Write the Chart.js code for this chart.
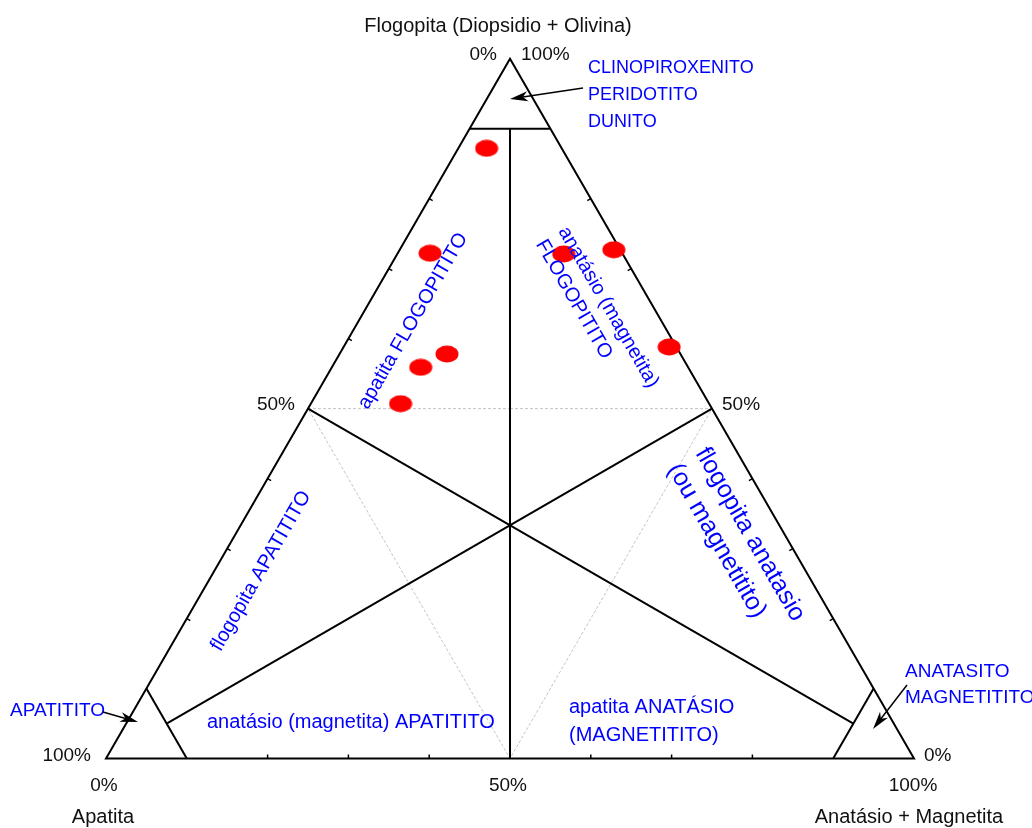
<!DOCTYPE html>
<html>
<head>
<meta charset="utf-8">
<script src="https://cdn.jsdelivr.net/npm/chart.js@4.4.1/dist/chart.umd.min.js"></script>
<style>
  html, body { margin: 0; padding: 0; background: #fff; }
</style>
</head>
<body>
<canvas id="ternary" width="1032" height="828"></canvas>
<script>
// Amostras (% de cada vertice)
const sampleApatita   = [9.3, 23.8, 28.9, 33.1, 38.2, 7.3, 0.8, 0.9];
const sampleAnatasio  = [3.5, 4.0, 13.3, 11.0, 11.1, 20.6, 26.5, 40.3];
const sampleFlogopita = [87.2, 72.2, 57.8, 55.9, 50.7, 72.1, 72.7, 58.8];

// Vertices e rotulos dos eixos
const vertexNames = ['Flogopita (Diopsidio + Olivina)', 'Apatita', 'Anatásio + Magnetita'];
const pctLabels = ['0%', '50%', '100%'];
const cornerCut = 90;   // limite dos campos de canto
const tickStep = 10;

const SQ3 = Math.sqrt(3) / 2;

// ternario -> cartesiano (apatita na origem, anatasio em x = 1)
function tern(ap, an, fl) {
    return { x: (an + fl / 2) / 100, y: fl / 100 * SQ3 };
}

// red ellipse used as point style
const dot = document.createElement('canvas');
dot.width = 24;
dot.height = 18;
const dctx = dot.getContext('2d');
dctx.fillStyle = '#ff0000';
dctx.beginPath();
dctx.ellipse(12, 9, 11.5, 8.4, 0, 0, Math.PI * 2);
dctx.fill();

function seg(points, opts) {
    return Object.assign({
        data: points,
        showLine: true,
        borderColor: '#000',
        borderWidth: 2,
        pointRadius: 0,
        fill: false,
        tension: 0,
        borderJoinStyle: 'miter'
    }, opts || {});
}

const c = cornerCut, r = 100 - cornerCut;

const datasets = [
    {
        data: sampleFlogopita.map((f, i) => tern(sampleApatita[i], sampleAnatasio[i], f)),
        pointStyle: dot,
        pointRadius: 10,
        showLine: false
    },
    // contorno
    seg([tern(50, 50, 0), tern(0, 100, 0), tern(0, 0, 100), tern(100, 0, 0), tern(50, 50, 0)]),
    // campos de canto
    seg([tern(r, 0, c), tern(0, r, c)]),
    seg([tern(c, 0, r), tern(c, r, 0)]),
    seg([tern(r, c, 0), tern(0, c, r)]),
    // medianas
    seg([tern(50, 50, 0), tern(r / 2, r / 2, c)]),
    seg([tern(0, 50, 50), tern(c, r / 2, r / 2)]),
    seg([tern(50, 0, 50), tern(r / 2, c, r / 2)]),
    // triangulo medio tracejado
    seg([tern(25, 25, 50), tern(0, 50, 50), tern(50, 50, 0), tern(50, 0, 50), tern(25, 25, 50)], {
        borderColor: '#c4c4c4',
        borderWidth: 1,
        borderDash: [3, 2]
    })
];

function drawText(ctx, s, x, y, font, color, align, rot, lh) {
    ctx.save();
    ctx.font = font;
    ctx.fillStyle = color;
    ctx.textAlign = align || 'left';
    ctx.textBaseline = 'alphabetic';
    ctx.translate(x, y);
    if (rot) ctx.rotate(rot * Math.PI / 180);
    const lines = Array.isArray(s) ? s : [s];
    const step = lh || parseFloat(font) * 1.3;
    lines.forEach((line, i) => ctx.fillText(line, 0, i * step));
    ctx.restore();
}

function arrow(ctx, x0, y0, x1, y1) {
    const a = Math.atan2(y1 - y0, x1 - x0);
    const len = 18, half = 5, notch = 13;
    ctx.save();
    ctx.strokeStyle = '#000';
    ctx.fillStyle = '#000';
    ctx.lineWidth = 1.5;
    ctx.beginPath();
    ctx.moveTo(x0, y0);
    ctx.lineTo(x1 - Math.cos(a) * notch, y1 - Math.sin(a) * notch);
    ctx.stroke();
    ctx.translate(x1, y1);
    ctx.rotate(a);
    ctx.beginPath();
    ctx.moveTo(0, 0);
    ctx.lineTo(-len, -half);
    ctx.lineTo(-notch, 0);
    ctx.lineTo(-len, half);
    ctx.closePath();
    ctx.fill();
    ctx.restore();
}

const decor = {
    id: 'ternaryDecor',
    beforeDatasetsDraw(chart) {
        const { ctx, scales: { x, y } } = chart;
        const px = p => ({ x: x.getPixelForValue(p.x), y: y.getPixelForValue(p.y) });

        // pequenas marcas a cada 10% (10 e 90 caem nas linhas de canto)
        const V = [px(tern(100, 0, 0)), px(tern(0, 100, 0)), px(tern(0, 0, 100))];
        const edges = [[0, 1, 2], [0, 2, 1], [1, 2, 0]];
        ctx.save();
        ctx.strokeStyle = '#000';
        ctx.lineWidth = 1.5;
        edges.forEach(([a, b, o]) => {
            const A = V[a], B = V[b], O = V[o];
            let nx = -(B.y - A.y), ny = B.x - A.x;
            const L = Math.hypot(nx, ny);
            nx /= L; ny /= L;
            for (let k = 2 * tickStep; k < 100 - tickStep; k += tickStep) {
                const t = k / 100;
                const p = { x: A.x + (B.x - A.x) * t, y: A.y + (B.y - A.y) * t };
                const s = ((O.x - p.x) * nx + (O.y - p.y) * ny) > 0 ? 1 : -1;
                ctx.beginPath();
                ctx.moveTo(p.x, p.y);
                ctx.lineTo(p.x + nx * 4 * s, p.y + ny * 4 * s);
                ctx.stroke();
            }
        });
        ctx.restore();
    },
    afterDatasetsDraw(chart) {
        const { ctx } = chart;
        const black = '#111';
        const blue = '#0000ff';
        const f19 = '19px "Liberation Sans", Arial, sans-serif';
        const f20 = '20px "Liberation Sans", Arial, sans-serif';
        const f18 = '18px "Liberation Sans", Arial, sans-serif';
        const f25 = '25px "Liberation Sans", Arial, sans-serif';

        // nomes dos vertices
        drawText(ctx, vertexNames[0], 498, 32, f20, black, 'center');
        drawText(ctx, vertexNames[1], 103, 823, f20, black, 'center');
        drawText(ctx, vertexNames[2], 909, 823, f20, black, 'center');

        // percentuais
        drawText(ctx, pctLabels[0], 497, 60, f19, black, 'right');
        drawText(ctx, pctLabels[2], 521, 60, f19, black, 'left');
        drawText(ctx, pctLabels[1], 295, 410, f19, black, 'right');
        drawText(ctx, pctLabels[1], 722, 410, f19, black, 'left');
        drawText(ctx, pctLabels[2], 91, 761, f19, black, 'right');
        drawText(ctx, pctLabels[0], 924, 761, f19, black, 'left');
        drawText(ctx, pctLabels[0], 104, 791, f19, black, 'center');
        drawText(ctx, pctLabels[1], 508, 791, f19, black, 'center');
        drawText(ctx, pctLabels[2], 913, 791, f19, black, 'center');

        // campos
        drawText(ctx, ['CLINOPIROXENITO', 'PERIDOTITO', 'DUNITO'], 588, 73, f18, blue, 'left', 0, 27);
        drawText(ctx, 'APATITITO', 10, 716, f19, blue, 'left');
        drawText(ctx, ['ANATASITO', 'MAGNETITITO'], 905, 677, f19, blue, 'left', 0, 26);
        drawText(ctx, 'anatásio (magnetita) APATITITO', 207, 728, f20, blue, 'left');
        drawText(ctx, ['apatita ANATÁSIO', '(MAGNETITITO)'], 569, 713, f20, blue, 'left', 0, 28);

        ctx.save();
        ctx.font = f20;
        ctx.fillStyle = blue;
        ctx.textAlign = 'center';
        ctx.textBaseline = 'middle';
        [['apatita FLOGOPITITO', 413, 321], ['flogopita APATITITO', 261, 571]].forEach(([s, cx, cy]) => {
            ctx.save();
            ctx.translate(cx, cy);
            ctx.rotate(-Math.PI / 3);
            ctx.fillText(s, 0, 0);
            ctx.restore();
        });
        ctx.restore();

        drawText(ctx, ['anatásio (magnetita)', 'FLOGOPITITO'], 558, 231, f20, blue, 'left', 60, 26);
        drawText(ctx, ['flogopita anatasio', '(ou magnetitito)'], 695, 453, f25, blue, 'left', 60, 32);

        // setas
        arrow(ctx, 583, 88, 510, 99);
        arrow(ctx, 103, 712, 138, 722);
        arrow(ctx, 907, 685, 873, 729);
    }
};

new Chart(document.getElementById('ternary'), {
    type: 'scatter',
    data: { datasets: datasets },
    options: {
        responsive: false,
        animation: false,
        events: [],
        layout: { padding: 0, autoPadding: false },
        scales: {
            x: { type: 'linear', min: -106 / 808, max: 926 / 808, display: false },
            y: { type: 'linear', min: -69.5 / 808, max: 758.5 / 808, display: false }
        },
        plugins: {
            legend: { display: false },
            tooltip: { enabled: false }
        }
    },
    plugins: [decor]
});
</script>
</body>
</html>
